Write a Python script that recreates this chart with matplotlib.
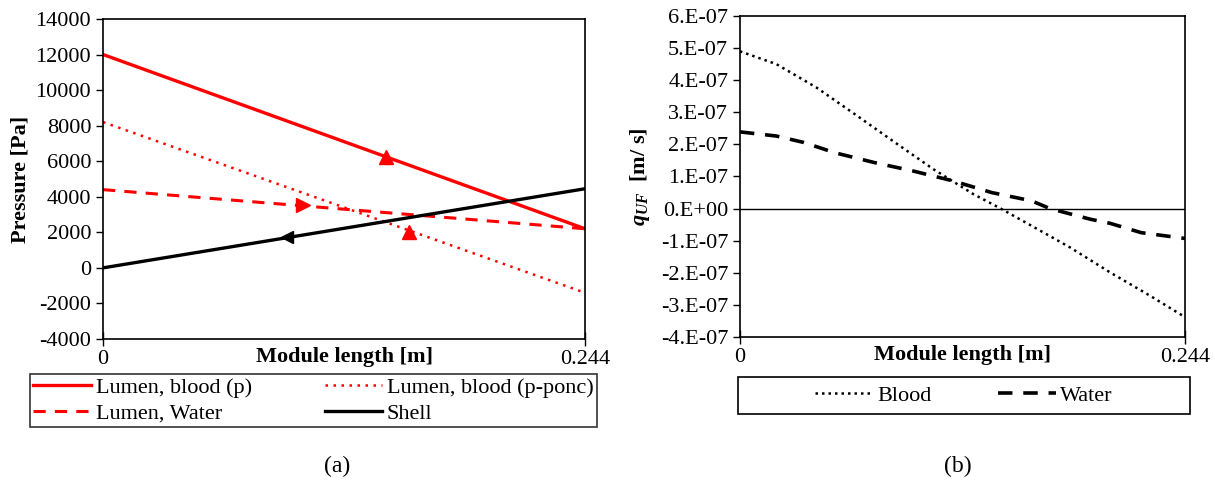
import numpy as np
import matplotlib.pyplot as plt

plt.rcParams['font.family'] = ['Liberation Serif', 'DejaVu Serif']
plt.rcParams['mathtext.fontset'] = 'custom'
plt.rcParams['mathtext.it'] = 'Liberation Serif:italic:bold'
plt.rcParams['mathtext.rm'] = 'Liberation Serif:bold'

L = 0.244

# (a) pressure along the module
x_ends = [0.0, L]
p_blood = [12000, 2200]
p_blood_ponc = [8200, -1400]
p_water = [4400, 2200]
p_shell = [0, 4450]

# direction arrows (x, y)
arr_blood = (0.143, 6250)
arr_blood_ponc = (0.155, 2000)
arr_water = (0.101, 3550)
arr_shell = (0.093, 1750)

# (b) ultrafiltration flux
xq = [0.0, 0.020, 0.042, 0.063, 0.085, 0.106, 0.128, 0.143, 0.160, 0.181, 0.203, 0.225, 0.244]
q_blood = [4.9e-7, 4.50e-7, 3.77e-7, 2.94e-7, 2.06e-7, 1.23e-7, 0.45e-7, 0.0,
           -0.54e-7, -1.21e-7, -1.99e-7, -2.72e-7, -3.38e-7]
xw = [0.0, 0.020, 0.035, 0.052, 0.074, 0.095, 0.117, 0.138, 0.160, 0.170, 0.192, 0.203, 0.220, 0.244]
q_water = [2.39e-7, 2.26e-7, 2.06e-7, 1.74e-7, 1.43e-7, 1.17e-7, 0.86e-7, 0.50e-7, 0.24e-7, 0.0,
           -0.33e-7, -0.46e-7, -0.75e-7, -0.93e-7]

fig = plt.figure(figsize=(12.15, 4.86), dpi=100)
ax1 = fig.add_axes([0.0848, 0.3025, 0.3967, 0.6585])
ax2 = fig.add_axes([0.609, 0.3066, 0.3663, 0.6605])

fs = 16

# ---- panel (a)
l1, = ax1.plot(x_ends, p_blood, color='#ff0000', lw=2.4, label='Lumen, blood (p)')
l2, = ax1.plot(x_ends, p_blood_ponc, color='#ff0000', lw=1.8, ls=(0, (1, 2.2)), label='Lumen, blood (p-ponc)')
l3, = ax1.plot(x_ends, p_water, color='#ff0000', lw=2.2, ls=(0, (4, 3)), label='Lumen, Water')
l4, = ax1.plot(x_ends, p_shell, color='black', lw=2.4, label='Shell')
ax1.plot(*arr_blood, marker='^', color='#ff0000', ms=10)
ax1.plot(*arr_blood_ponc, marker='^', color='#ff0000', ms=10)
ax1.plot(*arr_water, marker='>', color='#ff0000', ms=10)
ax1.plot(*arr_shell, marker='<', color='black', ms=9)

ax1.set_xlim(0, L)
ax1.set_ylim(-4000, 14000)
ax1.set_yticks(np.arange(-4000, 14001, 2000))
ax1.set_yticklabels([str(v) for v in range(-4000, 14001, 2000)])
ax1.set_xticks([0, L])
ax1.set_xticklabels(['0', '0.244'])
ax1.tick_params(axis='y', direction='out', length=5, labelsize=fs, width=1)
ax1.tick_params(axis='x', direction='inout', length=10, labelsize=fs, pad=3, width=1)
ax1.set_ylabel('Pressure [Pa]', fontsize=fs, fontweight='bold', labelpad=4)
ax1.text(0.5, -0.055, 'Module length [m]', transform=ax1.transAxes, ha='center', va='center',
         fontsize=fs, fontweight='bold')
for s in ax1.spines.values():
    s.set_linewidth(1.2)

# legend filled row by row like the original
leg1 = fig.legend(handles=[l1, l3, l2, l4], ncol=2, loc='lower left',
                  bbox_to_anchor=(30 / 1215, 1 - 427 / 486, 567 / 1215, 51 / 486), mode='expand',
                  fontsize=fs, frameon=True, fancybox=False, edgecolor='black', borderaxespad=0,
                  handlelength=2.6, handletextpad=0.2, labelspacing=0.25, columnspacing=1.0,
                  borderpad=0.15)
leg1.get_frame().set_linewidth(1.2)

# ---- panel (b)
lb, = ax2.plot(xq, q_blood, color='black', lw=1.8, ls=(0, (1, 1.6)), label='Blood')
lw_, = ax2.plot(xw, q_water, color='black', lw=2.6, ls=(0, (4, 3)), label='Water')
ax2.axhline(0, color='black', lw=1)
ax2.set_xlim(0, L)
ax2.set_ylim(-4e-7, 6e-7)
yt = np.arange(-4, 7, 1)
ax2.set_yticks(yt * 1e-7)
ax2.set_yticklabels(['0.E+00' if v == 0 else f'{v}.E-07' for v in yt])
ax2.set_xticks([0, L])
ax2.set_xticklabels(['0', '0.244'])
ax2.tick_params(axis='y', direction='out', length=5, labelsize=fs, width=1)
ax2.tick_params(axis='x', direction='inout', length=10, labelsize=fs, pad=3, width=1)
ax2.set_ylabel(r'$q_{UF}$  [m/ s]', fontsize=fs, fontweight='bold', labelpad=6)
ax2.text(0.5, -0.055, 'Module length [m]', transform=ax2.transAxes, ha='center', va='center',
         fontsize=fs, fontweight='bold')
for s in ax2.spines.values():
    s.set_linewidth(1.2)

leg2 = fig.legend(handles=[lb, lw_], ncol=2, loc='center',
                  bbox_to_anchor=(738 / 1215, 1 - 414 / 486, 452 / 1215, 37 / 486),
                  fontsize=fs, frameon=False, handlelength=2.6, handletextpad=0.2,
                  columnspacing=3.0)
fig.patches.append(plt.Rectangle((738 / 1215, 1 - 414 / 486), 452 / 1215, 37 / 486,
                                 transform=fig.transFigure, fill=False, ec='black', lw=1.2))

fig.text(337 / 1215, 1 - 466 / 486, '(a)', ha='center', va='center', fontsize=fs + 1)
fig.text(958 / 1215, 1 - 466 / 486, '(b)', ha='center', va='center', fontsize=fs + 1)

fig.savefig('out.png', dpi=100)
